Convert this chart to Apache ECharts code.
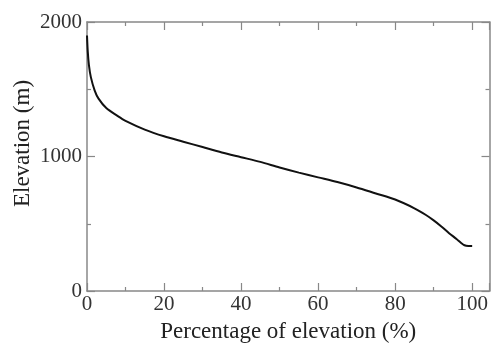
<!DOCTYPE html>
<html><head><meta charset="utf-8">
<script src="https://cdn.jsdelivr.net/npm/echarts@6/dist/echarts.min.js"></script>
<style>html,body{margin:0;padding:0;background:#fff}#c{width:492px;height:346px}</style>
</head><body><div id="c"></div>
<script>
const percent = [0, 0.2, 0.5, 1, 2, 3, 5, 8, 10, 15, 20, 25, 30, 35, 40, 45, 50, 55, 60, 65, 70, 75, 80, 85, 88, 90, 92, 94, 96, 97, 98, 99, 100];
const elevation = [1900, 1780, 1680, 1590, 1490, 1430, 1360, 1300, 1265, 1200, 1150, 1110, 1070, 1030, 995, 960, 918, 880, 845, 810, 770, 725, 680, 615, 565, 525, 480, 430, 385, 360, 340, 335, 335];
const xTitle = 'Percentage of elevation (%)';
const yTitle = 'Elevation (m)';

const font = 'Liberation Serif';
const axisColor = '#888';
const chart = echarts.init(document.getElementById('c'));
function ax(extra) {
  return Object.assign({
    axisLine: {show: true, onZero: false, lineStyle: {color: axisColor, width: 1.5}},
    axisTick: {show: true, inside: true, length: 8, lineStyle: {color: axisColor, width: 1.2}},
    minorTick: {show: true, splitNumber: 2, length: 4, lineStyle: {color: axisColor, width: 1.2}},
    splitLine: {show: false}
  }, extra);
}
chart.setOption({
  animation: false,
  grid: {left: 87, right: 2.5, top: 22, bottom: 55, containLabel: false, outerBoundsMode: 'none'},
  xAxis: [
    ax({type: 'value', min: 0, max: 104.5, interval: 20, position: 'bottom',
      name: xTitle, nameLocation: 'middle', nameGap: 29,
      nameTextStyle: {fontFamily: font, fontSize: 23, color: '#222'},
      axisLabel: {fontFamily: font, fontSize: 21, color: '#333', margin: 3,
        formatter: v => (v % 20 === 0 ? String(v) : '')}}),
    ax({type: 'value', min: 0, max: 104.5, interval: 20, position: 'top',
      axisLabel: {show: false}})
  ],
  yAxis: [
    ax({type: 'value', min: 0, max: 2000, interval: 1000, position: 'left',
      name: yTitle, nameLocation: 'middle', nameGap: 53, nameMoveOverlap: false,
      nameTextStyle: {fontFamily: font, fontSize: 23, color: '#222', padding: [0, 0, 0, 26]},
      axisLabel: {fontFamily: font, fontSize: 21, color: '#333', margin: 5,
        formatter: v => String(v)}}),
    ax({type: 'value', min: 0, max: 2000, interval: 1000, position: 'right',
      axisLabel: {show: false}})
  ],
  series: [{
    type: 'line', smooth: 0.3, showSymbol: false,
    data: percent.map((p, i) => [p, elevation[i]]),
    lineStyle: {color: '#111', width: 2}
  }]
});
</script></body></html>
